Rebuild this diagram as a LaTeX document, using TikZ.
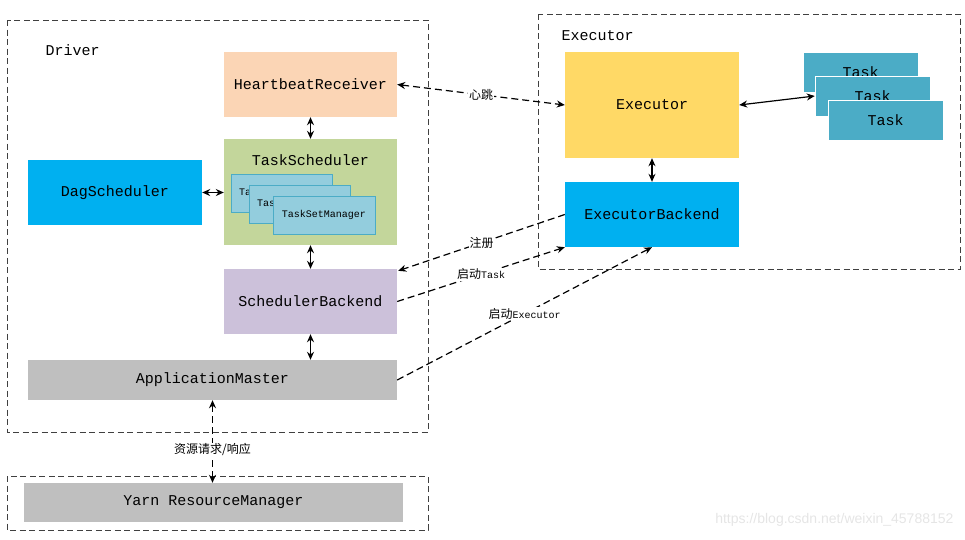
\documentclass[tikz,border=0pt]{standalone}
\usepackage{fontspec}
\setmainfont{Liberation Mono}
\newfontfamily\cjk{Noto Sans CJK SC}
\newfontfamily\wmfont{Liberation Sans}
\usetikzlibrary{arrows.meta,calc}
\definecolor{peach}{HTML}{FBD5B5}
\definecolor{tsgreen}{HTML}{C3D69B}
\definecolor{tsmblue}{HTML}{93CDDD}
\definecolor{tsmedge}{HTML}{4BACC6}
\definecolor{cyanbox}{HTML}{00B0F0}
\definecolor{lavender}{HTML}{CCC1DA}
\definecolor{greybox}{HTML}{BFBFBF}
\definecolor{yellowbox}{HTML}{FFD966}
\definecolor{taskblue}{HTML}{4BACC6}
\definecolor{framegrey}{HTML}{404040}
\begin{document}
\begin{tikzpicture}[x=1pt,y=-1pt,
  box/.style={rectangle,draw=none,inner sep=0pt,font=\fontsize{15}{15}\selectfont,text=black},
  tsmbox/.style={rectangle,fill=tsmblue,draw=tsmedge,line width=1pt,inner sep=0pt,minimum width=101pt,minimum height=38pt,font=\fontsize{10}{10}\selectfont},
  taskbox/.style={rectangle,fill=taskblue,draw=white,line width=0.5pt,inner sep=0pt,minimum width=115pt,minimum height=40pt,font=\fontsize{15}{15}\selectfont},
  frame/.style={draw=framegrey,line width=1pt,dash pattern=on 6pt off 3.5pt},
  dline/.style={draw=black,line width=1.2pt,dash pattern=on 7pt off 4pt},
  sline/.style={draw=black,line width=1.2pt},
  tip/.style={-{Stealth[length=8pt,width=7pt]}},
  both/.style={{Stealth[length=8pt,width=7pt]}-{Stealth[length=8pt,width=7pt]}},
  lbl/.style={fill=white,inner sep=1pt,font=\fontsize{12}{12}\cjk,text=black}
]
\useasboundingbox (0,0) rectangle (965,539);

% frames
\draw[frame] (7,20) rectangle (428,432);
\draw[frame] (538,14) rectangle (960,269);
\draw[frame] (7,476) rectangle (428,530);
\node[anchor=west,font=\fontsize{15}{15}\selectfont,text=black] (drvlbl) at (42,50) {Driver};
\node[anchor=west,font=\fontsize{15}{15}\selectfont,text=black] (exlbl) at (558,36) {Executor};

% Driver nodes
\node[box,fill=peach,minimum width=173pt,minimum height=65pt] (hb) at (310.5,84.5) {HeartbeatReceiver};
\node[box,fill=tsgreen,minimum width=173pt,minimum height=106pt] (ts) at (310.5,192) {};
\node[font=\fontsize{15}{15}\selectfont,text=black] (tslbl) at (310.5,160) {TaskScheduler};
\node[tsmbox] (tsm1) at (281.5,193) {\makebox[85pt][l]{TaskSetManager}};
\node[tsmbox] (tsm2) at (299.5,204) {\makebox[85pt][l]{TaskSetManager}};
\node[tsmbox,minimum width=102pt] (tsm3) at (324,215) {TaskSetManager};
\node[box,fill=cyanbox,minimum width=174pt,minimum height=65pt] (dag) at (115,192.5) {DagScheduler};
\node[box,fill=lavender,minimum width=173pt,minimum height=65pt] (sb) at (310.5,301.5) {SchedulerBackend};
\node[box,fill=greybox,minimum width=369pt,minimum height=40pt] (am) at (212.5,380) {ApplicationMaster};
\node[box,fill=greybox,minimum width=379pt,minimum height=39pt] (yarn) at (213.5,502.5) {Yarn ResourceManager};

% Executor nodes
\node[box,fill=yellowbox,minimum width=174pt,minimum height=106pt] (ex) at (652,105) {Executor};
\node[box,fill=cyanbox,minimum width=174pt,minimum height=65pt] (eb) at (652,214.5) {ExecutorBackend};
\node[taskbox] (t1) at (860.5,72) {Task};
\node[taskbox] (t2) at (872.5,96) {Task};
\node[taskbox] (t3) at (885.5,120) {Task};

% connectors
\draw[sline,both] (hb.south) -- (ts.north);
\draw[sline,both] (ts.south) -- (sb.north);
\draw[sline,both] (sb.south) -- (sb.south |- am.north);
\draw[sline,both] (dag.east) -- (dag.east -| ts.west);
\draw[sline,both] (ex.south) -- (eb.north);
\draw[sline,both] (ex.east) -- (t2.west);

\draw[dline,both] (hb.east) -- node[lbl,pos=0.5] (hblbl) {心跳} (ex.west);
\draw[dline,tip] (eb.west) -- node[lbl,pos=0.5] (reglbl) {注册} ($(sb.north east)+(1,2)$);
\draw[dline,tip] (sb.east) -- node[lbl,pos=0.5] (stlbl) {启动{\fontsize{10}{10}\selectfont\rmfamily Task}} (eb.south west);
\draw[dline,tip] (am.east) -- node[lbl,pos=0.5] (selbl) {启动{\fontsize{10}{10}\selectfont\rmfamily Executor}} (eb.south);
\draw[dline,both] (am.south) -- node[lbl,pos=0.6] (rrlbl) {资源请求/响应} (am.south |- yarn.north);

% watermark
\node[anchor=east,font=\fontsize{14}{14}\wmfont,text=black!10] (wm) at (957,520) {https://blog.csdn.net/weixin\_45788152};
\end{tikzpicture}
\end{document}
